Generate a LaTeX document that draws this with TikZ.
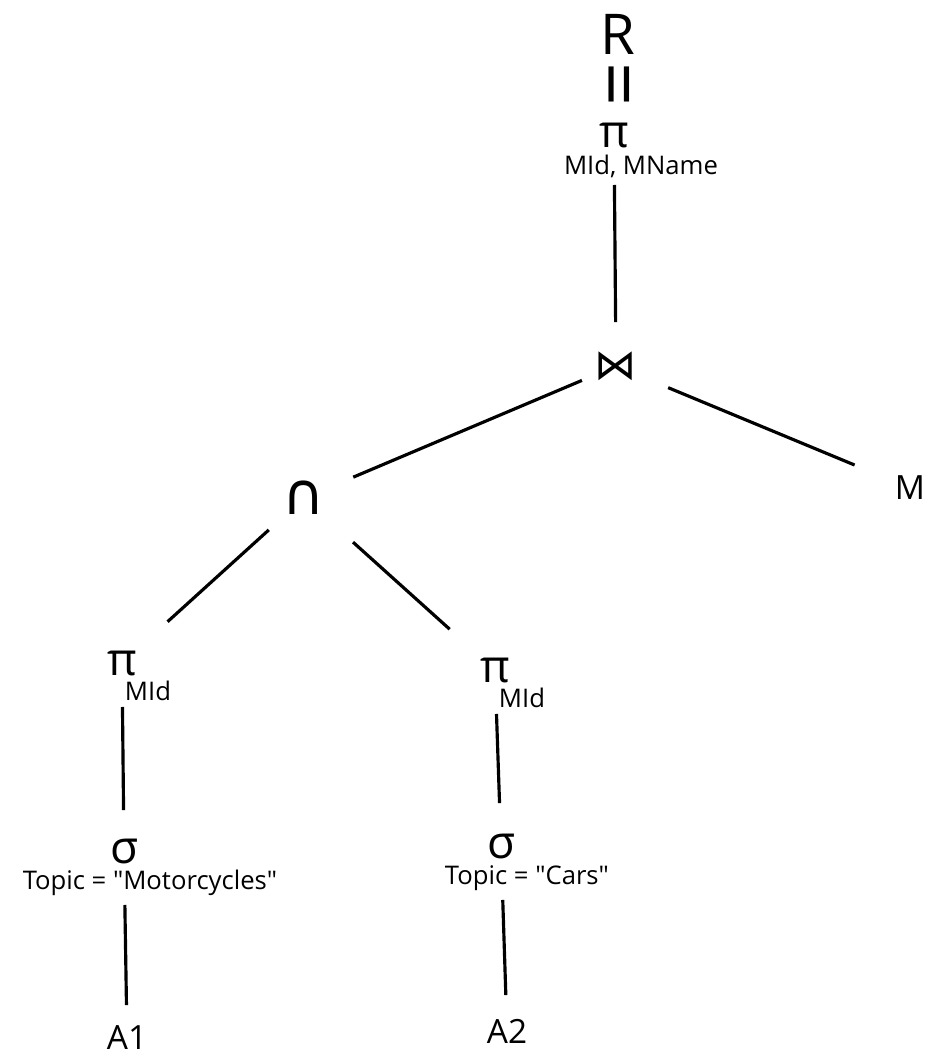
\documentclass[tikz,border=0pt]{standalone}
\usepackage{fontspec}
\setmainfont{Open Sans}[Ligatures=TeXOff]
\newfontfamily\symfont{DejaVu Sans}
\usetikzlibrary{calc}
\tikzstyle{rel} = [inner sep=0pt, font=\fontsize{19}{23}\selectfont]
\tikzstyle{op} = [inner sep=0pt, font=\fontsize{26}{30}\selectfont]
\tikzstyle{setop} = [inner sep=0pt, font=\symfont\fontsize{24}{28}\selectfont]
\tikzstyle{cond} = [inner sep=0pt, font=\fontsize{14.6}{17}\selectfont]
\tikzstyle{edge} = [line width=1.8pt]

\begin{document}
\begin{tikzpicture}[x=0.02cm, y=-0.02cm]
	\useasboundingbox (0,0) rectangle (938,1056);
	\node (r) at (618,34) [rel, font=\fontsize{32}{36}\selectfont] {R};
	\node (eq) at (628,84) [rel, rotate=90, font=\fontsize{44}{48}\selectfont] {=};
	\node (pi) at (614,135) [op] {π};
	\node (pisub) at ($(pi)+(27,31)$) [cond] {MId, MName};
	\node (join) at (616,366) [setop] {⋈};
	\node (cap) at (304,498) [setop, font=\symfont\fontsize{33}{37}\selectfont] {∩};
	\node (m) at (910,488) [rel] {M};
	\node (pil) at (122,663) [op] {π};
	\node (pilsub) at ($(pil)+(26,28)$) [cond] {MId};
	\node (pir) at (495,670) [op] {π};
	\node (pirsub) at ($(pir)+(27,28)$) [cond] {MId};
	\node (sigl) at (124,851) [op] {σ};
	\node (siglsub) at ($(sigl)+(26,32)$) [cond] {Topic = "Motorcycles"};
	\node (sigr) at (501,846) [op] {σ};
	\node (sigrsub) at ($(sigr)+(26,32)$) [cond] {Topic = "Cars"};
	\node (a1) at (127,1038) [rel] {A1};
	\node (a2) at (507,1031) [rel] {A2};
	\draw[edge, shorten <=1cm, shorten >=0.88cm] (pi.center) -- (join.center);
	\draw[edge, shorten <=0.74cm, shorten >=1.07cm] (join.center) -- (cap.center);
	\draw[edge, shorten <=1.13cm, shorten >=1.2cm] (join.center) -- (m.center);
	\draw[edge, shorten <=0.95cm, shorten >=1.23cm] (cap.center) -- (pil.center);
	\draw[edge, shorten <=1.32cm, shorten >=1.22cm] (cap.center) -- (pir.center);
	\draw[edge, shorten <=0.88cm, shorten >=0.82cm] (pil.center) -- (sigl.center);
	\draw[edge, shorten <=1.08cm, shorten >=0.66cm] (sigl.center) -- (a1.center);
	\draw[edge, shorten <=0.88cm, shorten >=0.86cm] (pir.center) -- (sigr.center);
	\draw[edge, shorten <=1.08cm, shorten >=0.72cm] (sigr.center) -- (a2.center);
\end{tikzpicture}
\end{document}
